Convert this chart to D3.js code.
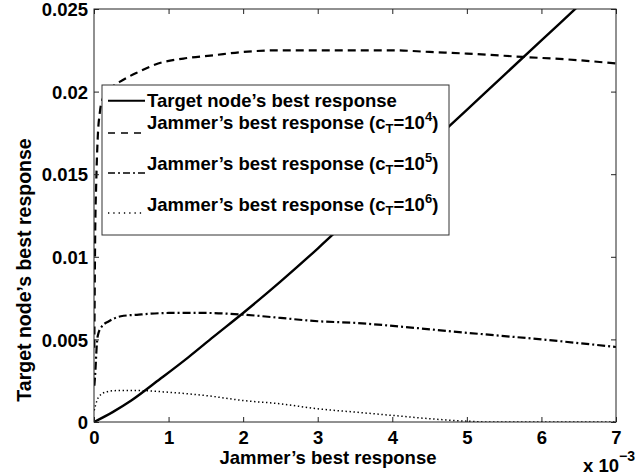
<!DOCTYPE html>
<html><head><meta charset="utf-8">
<script src="https://cdn.jsdelivr.net/npm/d3@7/dist/d3.min.js"></script>
<style>
html,body{margin:0;padding:0;background:#fff;}
svg{display:block;}
text{font-family:"Liberation Sans",Arial,Helvetica,sans-serif;font-weight:bold;fill:#000;}
</style></head>
<body>
<svg id="chart" width="641" height="476"></svg>
<script>
// ---- data (x in units of 10^-3) ----
const xTicks = [0,1,2,3,4,5,6,7];
const xTickLabels = ["0","1","2","3","4","5","6","7"];
const yTicks = [0,0.005,0.01,0.015,0.02,0.025];
const yTickLabels = ["0","0.005","0.01","0.015","0.02","0.025"];

const targetX = [0,0.25,0.5,0.885,1.26,1.6,2,2.5,3,3.5,4,4.5,5,5.5,6,6.5];
const targetY = [0,0.0006,0.0013,0.0026,0.0039,0.00515,0.0066,0.0085,0.0105,0.0126,0.0147,0.0168,0.0189,0.021,0.0231,0.0252];

const jam4X = [0.004,0.008,0.015,0.03,0.05,0.08,0.12,0.2,0.35,0.6,0.86,1.2,1.6,2,2.5,3,3.5,4,4.5,5,5.75,6.5,7];
const jam4Y = [0.0045,0.007,0.011,0.0145,0.0172,0.0188,0.0196,0.0201,0.0206,0.0212,0.0217,0.022,0.0222,0.0224,0.0225,0.0225,0.0225,0.0225,0.0224,0.0223,0.0221,0.0219,0.0217];

const jam5X = [0.005,0.02,0.035,0.05,0.1,0.2,0.36,0.6,1,1.5,2,2.5,3,3.5,4.1,5,6,7];
const jam5Y = [0.0022,0.0032,0.0045,0.0052,0.00575,0.0061,0.0064,0.0065,0.0066,0.0066,0.0065,0.0063,0.0061,0.006,0.00578,0.0054,0.005,0.00454];

const jam6X = [0.003,0.02,0.06,0.15,0.3,0.6,1,1.5,2,2.5,3,3.5,4,4.5,5,5.3,6,7];
const jam6Y = [0.0007,0.001,0.0015,0.0018,0.0019,0.0019,0.0018,0.0016,0.0013,0.0011,0.0008,0.0006,0.0004,0.0002,0.00005,0,0,0];

const seriesNames = ["Target node’s best response","Jammer’s best response (c","Jammer’s best response (c","Jammer’s best response (c"];
const seriesExps = [null,"4","5","6"];

// ---- layout ----
const L = 94, R = 616, T = 9, B = 422;
const svg = d3.select("#chart");
const x = d3.scaleLinear().domain([0,7]).range([L,R]);
const y = d3.scaleLinear().domain([0,0.025]).range([B,T]);

svg.append("defs").append("clipPath").attr("id","clip")
  .append("rect").attr("x",L).attr("y",T).attr("width",R-L).attr("height",B-T);

const styles = [
  {w:2.4, dash:null},
  {w:2.2, dash:"8,5"},
  {w:2.2, dash:"8,3,2,3"},
  {w:1.5, dash:"1.4,2.6"}
];
const series = [[targetX,targetY],[jam4X,jam4Y],[jam5X,jam5Y],[jam6X,jam6Y]];

const line = d3.line().x(d=>x(d[0])).y(d=>y(d[1])).curve(d3.curveMonotoneX);
const gLines = svg.append("g").attr("clip-path","url(#clip)");
series.forEach((s,i)=>{
  const pts = s[0].map((v,j)=>[v,s[1][j]]);
  gLines.append("path").attr("d",line(pts)).attr("fill","none")
    .attr("stroke","#000").attr("stroke-width",styles[i].w)
    .attr("stroke-dasharray",styles[i].dash)
    .attr("stroke-linejoin","round");
});

// ---- axes ----
const fs = 18.5;
const axB = svg.append("g").attr("transform",`translate(0,${B})`)
  .call(d3.axisBottom(x).tickValues(xTicks).tickFormat((d,i)=>xTickLabels[i]).tickSizeInner(-5).tickSizeOuter(0).tickPadding(8));
const axT = svg.append("g").attr("transform",`translate(0,${T})`)
  .call(d3.axisTop(x).tickValues(xTicks).tickFormat("").tickSizeInner(-5).tickSizeOuter(0));
const axL = svg.append("g").attr("transform",`translate(${L},0)`)
  .call(d3.axisLeft(y).tickValues(yTicks).tickFormat((d,i)=>yTickLabels[i]).tickSizeInner(-5).tickSizeOuter(0).tickPadding(6));
const axR = svg.append("g").attr("transform",`translate(${R},0)`)
  .call(d3.axisRight(y).tickValues(yTicks).tickFormat("").tickSizeInner(-5).tickSizeOuter(0));
[axB,axT,axL,axR].forEach(a=>{
  a.select(".domain").remove();
  a.selectAll("line").attr("stroke","#222").attr("stroke-width",1);
  a.selectAll("text").attr("font-size",fs).attr("font-family",null).attr("fill","#000");
});
axB.selectAll("text").attr("dy","0").attr("y",22);
axL.selectAll("text").attr("dy","0.36em");
svg.append("rect").attr("x",L).attr("y",T).attr("width",R-L).attr("height",B-T)
  .attr("fill","none").attr("stroke","#222").attr("stroke-width",1);

// axis labels
svg.append("text").attr("x",328).attr("y",464).attr("text-anchor","middle")
  .attr("font-size",fs).text("Jammer’s best response");
svg.append("text").attr("transform",`translate(31,270) rotate(-90)`)
  .attr("text-anchor","middle").attr("font-size",19.5).text("Target node’s best response");
const mult = svg.append("text").attr("x",583).attr("y",472).attr("text-anchor","start").attr("font-size",fs);
mult.append("tspan").text("x 10");
mult.append("tspan").attr("dy",-11).attr("font-size",14).text("−3");

// ---- legend ----
const lg = svg.append("g");
lg.append("rect").attr("x",102).attr("y",85).attr("width",347).attr("height",150)
  .attr("fill","#fff").attr("stroke","#333").attr("stroke-width",1);
const textBase = [107,129,170,211];
const sampleY = [100.7,133,173,213];
const legStyles = [
  {w:2, dash:null},
  {w:1.6, dash:"7,6"},
  {w:1.6, dash:"7,3,2,3"},
  {w:1.3, dash:"1.3,4"}
];
seriesNames.forEach((nm,i)=>{
  lg.append("line").attr("x1",108).attr("x2",145).attr("y1",sampleY[i]).attr("y2",sampleY[i])
    .attr("stroke","#000").attr("stroke-width",legStyles[i].w).attr("stroke-dasharray",legStyles[i].dash);
  const t = lg.append("text").attr("x",147).attr("y",textBase[i]).attr("font-size",fs);
  t.append("tspan").text(nm);
  if (seriesExps[i]) {
    t.append("tspan").attr("dy",4).attr("font-size",13).text("T");
    t.append("tspan").attr("dy",-4).text("=10");
    t.append("tspan").attr("dy",-8).attr("font-size",13).text(seriesExps[i]);
    t.append("tspan").attr("dy",8).text(")");
  }
});
</script>
</body></html>
